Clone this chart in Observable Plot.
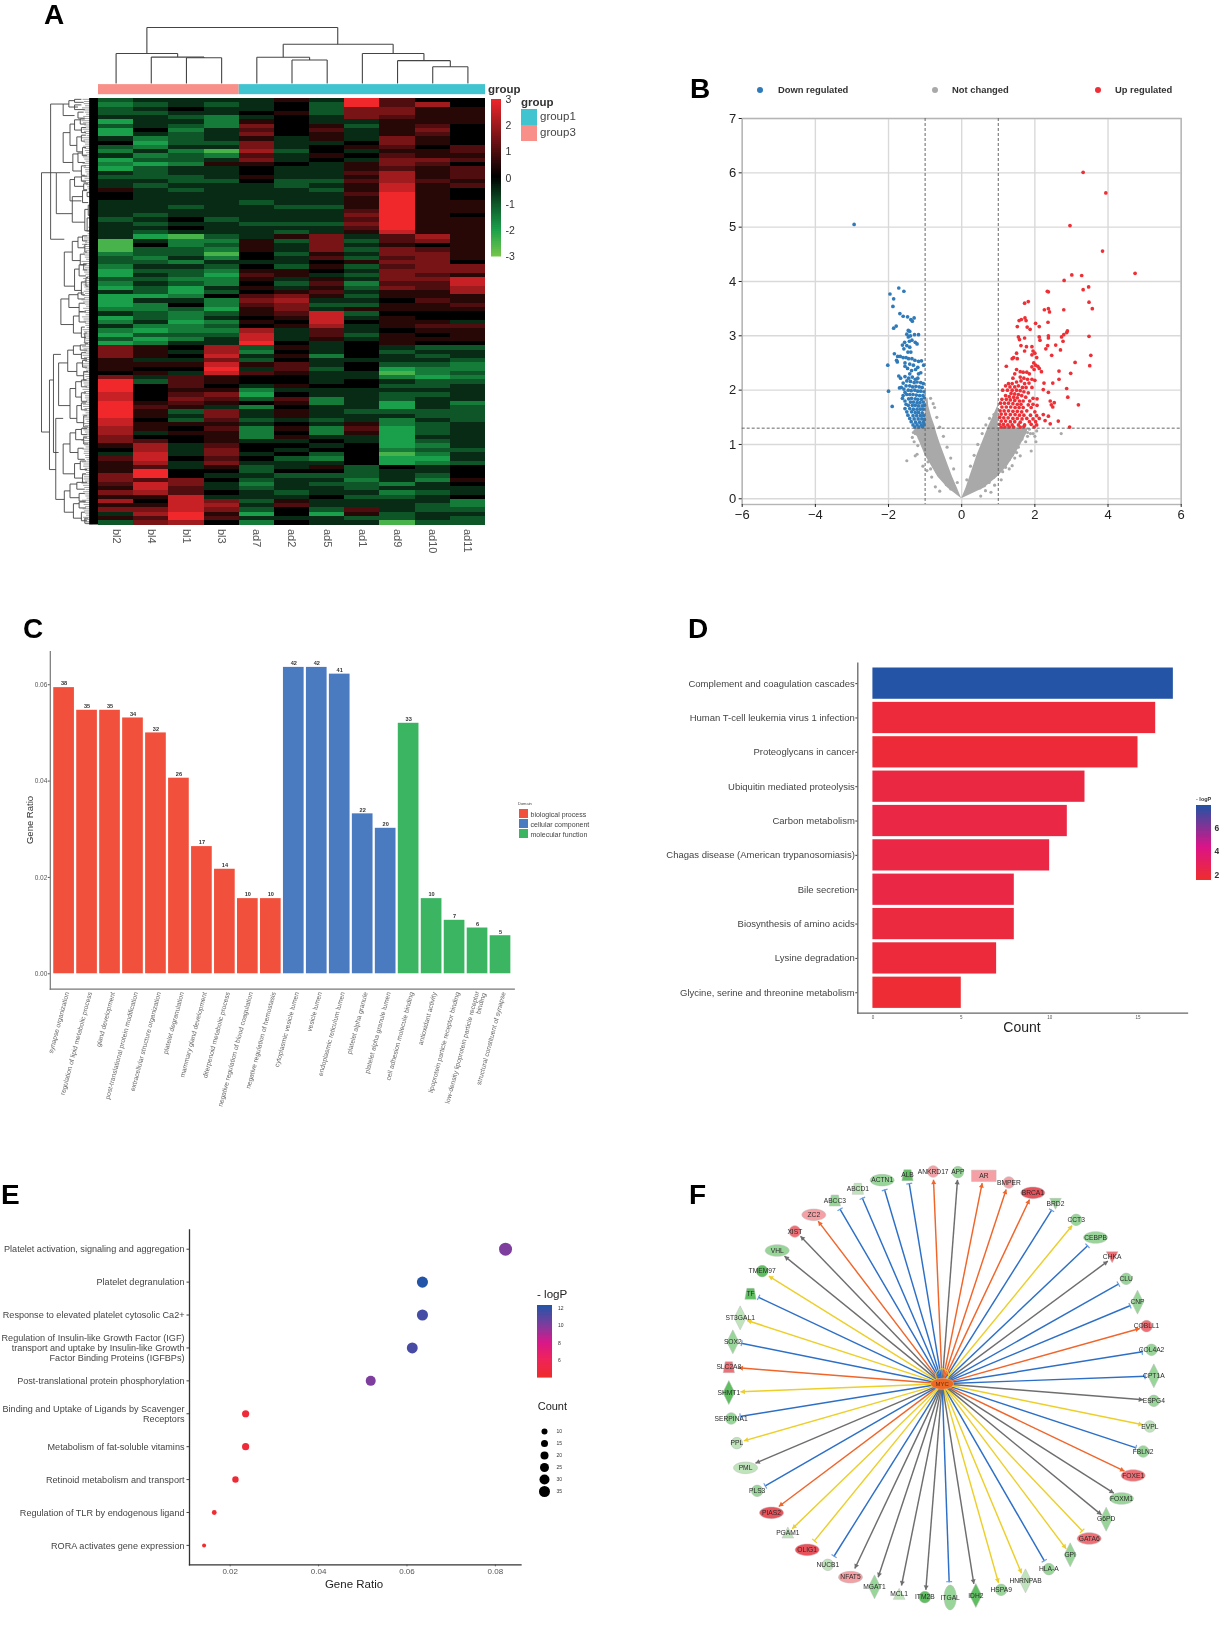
<!DOCTYPE html>
<html><head><meta charset="utf-8">
<style>
html,body{margin:0;padding:0;background:#fff;font-family:"Liberation Sans",Arial,sans-serif}
#chart{position:relative;width:1219px;height:1627px;overflow:hidden;filter:blur(0.45px)}
#chart div{white-space:nowrap}
</style>
<script src="https://cdn.jsdelivr.net/npm/d3@7"></script>
<script src="https://cdn.jsdelivr.net/npm/@observablehq/plot@0.6"></script>
</head><body><div id="chart"></div>
<script>
// ---------- Panel A: heat map
const heatColumns=["bl2","bl4","bl1","bl3","ad7","ad2","ad5","ad1","ad9","ad10","ad11"];
const groupNames=["group3","group1"];
const groupStart=[0,4];
const groupEnd=[4,11];
// z-scores, in half units, one list per row of the picture
const heatRows=[
[-2,-1,-1,-1,-1,1,-1,6,2,0,0],[-3,-2,-1,-2,-1,0,-2,6,2,4,0],[-2,-1,0,-1,-1,0,-2,3,3,1,1],[-2,-2,-1,-1,0,1,-2,3,3,1,1],
[-1,-1,-2,-3,-1,0,-1,3,2,1,1],[-4,-1,-1,-3,1,0,-1,-1,1,1,1],[-2,-1,-2,-3,3,0,1,-2,1,2,0],[-4,0,-3,-1,2,0,2,-1,1,3,0],
[-4,-1,-2,-1,3,0,1,-1,1,2,0],[-1,-3,-2,-1,1,-1,1,-1,3,1,0],[0,-4,-2,-2,3,-1,-1,0,3,1,0],[-2,-3,-1,-1,3,-1,0,1,2,0,2],
[-3,-1,-3,-5,4,-2,0,-1,1,1,2],[-1,-3,-2,-3,2,-1,1,0,2,1,1],[-4,-2,-2,-1,3,-1,0,-1,3,3,2],[-3,-4,-3,1,1,0,-1,1,3,2,0],
[-4,-2,-1,-1,0,-1,-1,1,2,1,2],[-1,-2,-1,-1,0,-1,-1,2,4,1,2],[-2,-2,-2,-1,1,-1,-1,1,4,1,2],[-1,-1,-2,-2,0,-2,-2,2,4,2,1],
[-1,-2,-1,-1,-1,-2,-1,1,5,1,2],[1,-1,-2,-1,-1,-1,-2,1,5,1,0],[0,-1,-1,-1,-1,-1,-1,2,6,1,0],[0,-1,-1,-1,-1,-1,-1,1,6,1,0],
[-1,-1,-1,-1,-2,-1,-1,1,6,1,1],[-1,-1,-2,-1,-1,-2,-2,1,6,1,1],[-1,-1,-1,-1,-1,-1,-1,2,6,1,1],[-1,-2,-1,-1,-1,-1,-1,3,6,1,0],
[-2,-1,0,-2,-1,-1,-1,2,6,1,1],[-1,-2,-1,-1,-2,-2,-2,3,6,1,1],[-1,-1,0,-1,-1,-1,-1,2,6,1,1],[-1,-2,-1,-1,-1,-2,-1,1,5,1,1],
[-1,-4,-5,-2,-1,1,3,-1,2,4,1],[-5,-1,-3,-3,1,-2,3,-2,2,3,1],[-5,0,-3,-2,1,-1,3,-1,1,0,1],[-5,-2,-2,-3,1,-1,3,-2,3,2,1],
[-3,-2,-2,-5,0,-2,1,-1,3,3,1],[-2,-3,-1,-3,0,-1,2,-2,2,3,1],[-2,-2,-3,-1,-1,-1,0,1,3,3,0],[-3,-1,-1,-2,0,-2,1,-2,2,3,3],
[-4,-2,-2,-3,1,1,0,-1,3,3,3],[-4,-1,-2,-4,2,1,-1,-2,3,2,1],[-2,-2,-3,-3,1,-1,1,-1,3,3,5],[-3,-1,-2,-3,0,-2,2,-3,2,2,5],
[-4,-2,-4,-1,1,-1,1,-2,3,2,4],[-1,-2,-4,-2,0,1,2,-1,1,1,4],[-4,-4,-3,0,2,3,1,-2,1,1,1],[-4,-1,-1,-3,3,4,-1,-1,0,2,1],
[-4,-3,0,-3,2,3,-2,-2,1,1,2],[-3,-3,-2,-4,1,3,-1,1,1,1,1],[-1,-2,-3,-2,1,2,5,-2,0,0,0],[-4,-2,-3,-1,0,1,5,-1,1,0,0],
[-3,-1,-4,-3,1,0,5,0,1,1,-1],[-1,-3,-3,-2,0,1,4,-1,1,2,2],[-3,-4,-3,-3,4,-1,2,-1,0,1,1],[-4,-2,-2,-2,5,-1,2,-2,1,0,1],
[-2,-4,-3,-1,5,-1,1,-1,1,1,1],[-4,-3,-1,-1,6,0,-1,0,1,0,0],[3,1,0,4,-2,1,-1,0,-1,-2,-2],[3,1,-1,4,-3,0,-1,0,-2,-1,-1],
[3,1,0,5,-1,1,-3,0,-1,-2,-1],[1,-1,-1,3,-2,0,-1,-1,-1,-1,-2],[1,1,1,5,1,2,-1,0,-2,-2,-3],[1,0,0,6,-1,2,-2,0,-4,-3,-3],
[0,1,-1,5,2,1,-1,-1,-5,-3,-2],[3,-1,2,1,0,0,-1,-1,-3,-4,-3],[6,-2,2,1,0,0,-1,0,-1,-2,-2],[6,0,2,0,-1,1,0,0,-2,-2,-1],
[6,0,1,1,-3,-1,-1,-1,-1,-1,-1],[5,0,2,3,-4,0,-1,-1,-2,-2,-1],[5,0,3,2,-2,2,-3,-1,-2,-1,-1],[6,1,2,1,0,1,-3,-1,-4,-1,-3],
[6,2,1,-1,-3,0,-1,-1,-4,-1,-2],[6,1,-2,3,-1,1,-1,-2,-2,-2,-2],[6,1,-1,3,-1,1,-1,-1,-1,-2,-2],[5,0,-2,2,-2,-1,-2,-1,-3,-1,-2],
[5,1,1,1,-1,0,-1,1,-3,-2,-1],[4,1,0,2,-3,1,-3,2,-4,-2,-1],[4,-1,1,1,-3,0,-3,1,-4,-2,-1],[3,0,0,1,-3,1,-1,-1,-4,-1,-1],
[3,2,0,1,-1,-1,0,-1,-4,-2,-1],[1,4,-1,2,0,0,-1,0,-4,-3,-1],[0,4,-1,3,0,-1,0,0,-3,-2,-2],[-1,5,-1,3,-1,0,-2,0,-5,-3,-1],
[2,5,0,2,0,-2,-3,0,-4,-4,-1],[1,4,-1,3,-1,-1,-1,0,-4,-3,-2],[1,2,-1,1,-2,-1,1,-2,0,-1,0],[1,6,0,0,-2,0,0,-2,-1,-1,0],
[3,6,0,-1,-1,-2,-2,-2,-1,-2,0],[3,2,3,0,-2,-1,-1,-3,-1,-3,1],[2,5,3,-1,-3,-1,-2,-2,-3,-1,0],[1,5,2,-1,-2,-1,-1,-2,-1,-1,-1],
[3,4,2,0,-1,-2,-1,-1,-3,-2,-1],[1,1,5,-1,-1,-1,0,-2,-2,-1,0],[4,0,5,3,-2,1,-1,-1,-1,-1,-3],[1,1,5,4,-1,2,-1,-1,-1,-2,-3],
[3,3,5,3,-2,0,-2,2,-1,-2,-2],[-1,4,6,1,-4,0,-4,1,-2,-1,-1],[1,2,6,2,-1,-1,-1,-2,-2,-1,-2],[-2,3,4,0,-3,0,-1,-1,-5,-2,-2]];
// column tree: left position, right position, merge height, left child height, right child height
const columnTree=[[2.5,3.5,.459,0,0],[1.5,3,.471,0,.459],[.5,2.25,.536,0,.471],[5.5,6.5,.42,0,0],[4.5,6,.47,0,.42],
[9.5,10.5,.30,0,0],[8.5,10,.408,0,.30],[7.5,9.25,.535,0,.408],[5.25,8.375,.7,.47,.535],[1.375,6.8,1,.536,.7]];
// row tree: height, top row, bottom row, top child height, bottom child height
const rowTree=[[1,17.4,78.2,.74,.86],[.84,1.3,33,.62,.6],[.74,17.4,27,.5,.46],[.86,66,87,.79,.75],[.79,60,83,.66,.7],[.75,75,94,.62,.6],
[.62,1.3,4,.52,.42],[.52,.5,2,.42,.36],[.42,.2,.9,.3,.26],[.42,1.5,2.6,.3,.24],[.36,3.2,4.6,.26,.24],
[.62,8,15,.5,.45],[.5,6,11,.42,.38],[.42,5,7.4,.32,.3],[.32,4.8,6,.24,.22],[.3,6.8,8,.22,.22],[.38,9,12.5,.3,.28],[.3,8.6,10,.22,.24],[.28,11.5,13.4,.22,.2],
[.45,13,17,.36,.3],[.36,12.8,15,.28,.24],[.3,15.8,18,.22,.24],
[.5,19,24,.42,.3],[.42,18.4,20.6,.3,.26],[.3,18.2,19.4,.2,.22],[.26,20,21.4,.18,.2],
[.46,23,29,.28,.24],[.28,21.6,24.4,.2,.18],[.24,26,31,.18,.2],[.2,22,23,.14,.15],[.18,25,27.4,.13,.15],[.2,28,31,.14,.14],
[.6,36,44,.46,.42],[.46,33.5,38,.36,.32],[.36,32.5,35,.28,.24],[.28,32.2,33.4,.2,.2],[.24,34.2,36,.2,.2],[.32,36.5,39,.24,.22],
[.42,40,45,.34,.3],[.34,39,41.6,.26,.22],[.26,38.8,40.2,.2,.2],[.3,43,46,.22,.24],[.22,42,44,.18,.18],
[.66,47,53,.52,.44],[.52,46,49,.36,.34],[.36,45.6,47,.26,.24],[.34,48,50,.24,.22],[.44,51,55,.34,.3],[.34,50,52.4,.26,.22],[.3,53.6,56,.24,.22],[.24,55,57.4,.2,.18],
[.7,62,72,.54,.5],[.54,59,64,.44,.38],[.44,58,60,.32,.3],[.32,57.8,59,.22,.2],[.3,59.6,61,.22,.2],[.38,62,65,.28,.26],[.28,61.4,63,.2,.2],[.26,64,66,.18,.2],
[.5,68,75,.4,.38],[.4,66.4,70,.3,.3],[.3,66,67.6,.22,.2],[.3,69,71,.22,.2],[.38,72,76,.3,.26],[.3,71.4,73,.22,.2],[.26,74.4,77,.2,.18],
[.62,81,88,.5,.42],[.5,78.4,83,.4,.36],[.4,77.6,80,.3,.26],[.3,77.4,78.8,.2,.2],[.26,79.4,81,.2,.18],[.36,82,84.6,.26,.24],[.42,85.6,89,.32,.28],[.32,85,87,.22,.2],[.28,88,90,.22,.2],
[.6,92,97,.5,.44],[.5,90.4,93.6,.38,.34],[.38,90,91.6,.26,.24],[.34,92.6,94.4,.24,.22],[.44,95,98.4,.34,.3],[.34,94.6,96,.24,.22],[.3,97,99,.24,.2],[.24,98.4,99.6,.18,.16]];
// leaf length per row of the tree
const rowLeaves=[.26,.24,.27,.22,.25,.28,.23,.26,.21,.27,.24,.25,.22,.28,.23,.26,.24,.21,.25,.27,.2,.17,.15,.14,.13,.14,.13,.15,.14,.13,.16,.19,.26,.24,.27,.23,.25,.22,.28,.24,.26,.21,.25,.27,.23,.24,.26,.28,.22,.25,.23,.27,.24,.21,.26,.25,.22,.24,.27,.23,.26,.24,.28,.22,.25,.21,.27,.23,.26,.24,.22,.28,.25,.23,.26,.21,.24,.27,.22,.25,.28,.23,.26,.24,.21,.27,.25,.22,.26,.24,.28,.23,.25,.21,.27,.24,.26,.22,.25,.23];
const heatTicks=[-3,-2,-1,0,1,2,3];

// ---------- Panel B: volcano
const xTicksB=[-6,-4,-2,0,2,4,6];
const yTicksB=[0,1,2,3,4,5,6,7];
const cloudY=[0,.2,.4,.6,.8,1,1.2,1.3,1.31,1.5,1.7,1.85];
const cloudLeftOuter=[0,-.38,-.65,-.82,-1,-1.12,-1.25,-1.27,-1,-1,-1,-.95];
const cloudLeftInner=[0,-.12,-.25,-.36,-.47,-.58,-.68,-.72,-.72,-.82,-.9,-.92];
const cloudRightInner=[0,.12,.22,.32,.42,.54,.66,.72,.72,.85,.98,1];
const cloudRightOuter=[0,.62,.98,1.25,1.45,1.62,1.78,1.82,1,1,1,1];
const notChanged=[[-1.5,.7],[2.72,1.2],[1.9,.88],[1.6,.79],[1.38,.61],[-.82,.4],[-1.06,.6],[-1.22,.82],[-1.27,.79],[-1.35,1.13],[-1.3,1.05],[-1.27,1.2],[-1.32,1.22],[-1.2,.98],[-.95,.52],[.65,.15],[.9,.25],[1.08,.35],[1.12,.5],[1.3,.55],[1.2,.58],[1.45,.75],[1.5,.85],[1.55,.95],[1.7,1.2],[1.8,1.15],[1.75,1.05],[1.95,1.2],[2,1.15],[2.03,1.05],[1.65,1.1],[1.85,1.28],[2.05,1.25],[1.6,1.25],[1.5,.98],[.8,.12],[.52,.05],[-.6,.14],[-.85,.55],[-.72,.22],[-.92,.68],[-.78,1.75],[-.85,1.85],
[-.3,.18],[-.42,.26],[-.5,.36],[-.6,.46],[-.68,.5],[-.75,.58],[-.8,.66],[-.88,.72],[-.95,.82],[-1,.9],[-1.06,.98],[-1.1,1.05],[-1.16,1.12],[-1.2,1.18],[-1.28,1.25],[-1.24,1.28],[-.12,.3],[-.22,.55],[-.3,.75],[-.4,.95],[-.5,1.15],[-.6,1.32],[-.68,1.5],[-.74,1.68],[.5,.2],[.62,.24],[.75,.3],[.88,.4],[1,.48],[1.12,.62],[1.22,.66],[1.3,.72],[1.38,.8],[1.45,.88],[1.52,1],[1.58,1.08],[1.66,1.14],[1.72,1.26],[1.8,1.22],[1.88,1.2],[.14,.35],[.24,.6],[.34,.8],[.44,1],[.56,1.2],[.66,1.36],[.76,1.48],[.88,1.55]];
const downRegulated=[[-2.94,5.05],[-1.72,3.88],[-1.58,3.82],[-1.96,3.77],[-1.86,3.68],[-1.88,3.54],[-1.69,3.41],[-1.6,3.36],[-1.48,3.35],[-1.3,3.33],[-1.35,3.27],[-1.39,3.3],[-1.79,3.18],[-1.86,3.14],[-1.46,3.1],[-1.42,3.08],[-1.5,3.03],[-1.46,2.98],[-1.4,3],[-1.29,3.02],[-1.18,3.02],[-1.36,2.92],[-1.43,2.9],[-1.27,2.88],[-1.22,2.85],[-1.56,2.88],[-1.62,2.83],[-1.5,2.82],[-1.42,2.79],[-1.58,2.76],[-1.47,2.7],[-1.39,2.7],[-1.84,2.67],[-1.75,2.62],[-1.68,2.62],[-1.6,2.6],[-1.52,2.6],[-1.45,2.58],[-1.36,2.58],[-1.28,2.55],[-1.18,2.53],[-1.1,2.54],[-1.78,2.55],[-1.76,2.52],[-1.55,2.5],[-1.42,2.48],[-1.32,2.46],[-1.55,2.44],[-1.2,2.42],[-2.02,2.46],[-1.04,2.46],[-1.48,2.4],[-1.37,2.36],[-1.26,2.38],[-1.18,2.3],[-1.12,2.32],[-1.42,2.3],[-1.72,2.26],[-1.67,2.22],[-1.55,2.25],[-1.45,2.22],[-1.35,2.24],[-1.27,2.2],[-1.2,2.22],[-1.5,2.17],[-1.4,2.16],[-1.3,2.14],[-1.22,2.15],[-1.12,2.14],[-1.05,2.12],[-1.6,2.13],[-1.65,2.05],[-1.7,2.04],[-1.52,2.08],[-1.42,2.08],[-1.34,2.06],[-1.25,2.07],[-1.16,2.06],[-1.08,2.05],[-1.58,2.02],[-1.46,2],[-1.38,1.99],[-1.28,2],[-1.2,1.98],[-1.12,1.98],[-1.03,1.97],[-2,1.98],[-1.55,1.96],[-1.6,1.9],[-1.5,1.92],[-1.42,1.92],[-1.33,1.92],[-1.24,1.91],[-1.15,1.9],[-1.06,1.9],[-1.02,1.86],[-1.62,1.85],[-1.45,1.84],[-1.37,1.85],[-1.27,1.84],[-1.2,1.83],[-1.1,1.83],[-1.55,1.8],[-1.32,1.78],[-1.4,1.78],[-1.22,1.77],[-1.14,1.77],[-1.05,1.78],[-1.52,1.74],[-1.46,1.72],[-1.35,1.72],[-1.27,1.72],[-1.18,1.71],[-1.08,1.71],[-1.02,1.72],[-1.9,1.7],[-1.55,1.66],[-1.42,1.66],[-1.32,1.65],[-1.22,1.65],[-1.13,1.65],[-1.05,1.65],[-1.5,1.6],[-1.37,1.6],[-1.27,1.59],[-1.18,1.59],[-1.08,1.58],[-1.47,1.54],[-1.33,1.53],[-1.23,1.53],[-1.13,1.53],[-1.04,1.53],[-1.42,1.48],[-1.3,1.47],[-1.19,1.47],[-1.09,1.47],[-1.02,1.46],[-1.38,1.42],[-1.26,1.41],[-1.15,1.41],[-1.05,1.41],[-1.33,1.36],[-1.22,1.36],[-1.11,1.36],[-1.03,1.36],[-1.28,1.32],[-1.17,1.32],[-1.07,1.33]];
const upRegulated=[[3.32,6.01],[3.94,5.63],[2.96,5.03],[3.85,4.56],[4.74,4.15],[3.01,4.12],[3.28,4.11],[2.8,4.02],[3.47,3.9],[3.32,3.85],[2.34,3.82],[2.37,3.81],[1.72,3.6],[1.82,3.63],[3.48,3.62],[3.57,3.5],[2.79,3.48],[2.26,3.48],[2.37,3.5],[2.4,3.44],[1.57,3.28],[1.63,3.3],[1.73,3.33],[1.76,3.28],[2.36,3.25],[1.52,3.17],[1.79,3.16],[1.87,3.12],[2.02,3.23],[2.12,3.17],[1.55,2.98],[1.58,2.93],[1.72,2.96],[2.89,3.09],[2.87,3.06],[3.48,2.99],[2.37,3],[2.37,2.96],[2.79,3.02],[2.73,2.98],[2.77,2.9],[2.12,2.98],[2.14,2.92],[2.57,2.83],[2.35,2.82],[2.3,2.76],[2.7,2.74],[2.46,2.64],[3.53,2.64],[3.1,2.51],[3.5,2.45],[2.66,2.35],[2.66,2.2],[2.98,2.31],[2.49,2.13],[2.87,2.03],[2.25,2.13],[2.23,2.01],[2.37,1.96],[2.9,1.87],[2.42,1.8],[2.53,1.77],[2.45,1.73],[2.49,1.69],[3.19,1.73],[2.23,1.55],[2.37,1.52],[2.64,1.43],[2.42,1.38],[2.28,1.44],[2.95,1.32],[1.62,2.82],[1.77,2.8],[1.92,2.8],[1.95,2.72],[1.72,2.72],[1.5,2.68],[1.92,2.65],[2,2.68],[1.42,2.6],[1.38,2.58],[1.52,2.58],[2.05,2.6],[1.97,2.5],[2.02,2.46],[2.08,2.44],[1.92,2.43],[1.22,2.44],[1.5,2.38],[2.12,2.4],[1.98,2.38],[2.18,2.34],[1.6,2.34],[1.68,2.33],[1.78,2.33],[1.85,2.3],[1.45,2.3],[1.4,2.22],[1.6,2.24],[1.7,2.22],[1.8,2.2],[1.92,2.2],[2,2.18],[1.62,2.17],[1.5,2.15],[1.28,2.12],[1.38,2.12],[1.72,2.12],[1.84,2.13],[1.2,2.08],[1.32,2.06],[1.45,2.06],[1.55,2.08],[1.66,2.05],[1.76,2.05],[1.92,2.05],[1.12,2],[1.25,2],[1.38,2],[1.5,2],[1.6,1.99],[1.7,1.97],[1.82,1.95],[1.35,1.94],[1.45,1.93],[1.55,1.92],[1.64,1.9],[1.2,1.9],[1.3,1.88],[1.42,1.87],[1.52,1.86],[1.75,1.87],[1.95,1.85],[2.06,1.84],[1.1,1.83],[1.22,1.83],[1.33,1.82],[1.45,1.81],[1.58,1.8],[1.68,1.8],[1.86,1.8],[1.06,1.76],[1.17,1.76],[1.28,1.76],[1.4,1.75],[1.52,1.74],[1.62,1.74],[1.82,1.73],[1.95,1.74],[2.06,1.72],[1.1,1.69],[1.22,1.69],[1.34,1.69],[1.46,1.68],[1.57,1.68],[1.68,1.68],[1.9,1.68],[1.05,1.62],[1.16,1.62],[1.28,1.62],[1.4,1.61],[1.52,1.61],[1.64,1.6],[1.78,1.62],[2,1.6],[1.08,1.56],[1.2,1.56],[1.33,1.55],[1.46,1.55],[1.58,1.54],[1.7,1.54],[1.88,1.54],[2.05,1.53],[1.04,1.5],[1.15,1.49],[1.27,1.49],[1.4,1.48],[1.52,1.48],[1.65,1.47],[1.78,1.48],[1.95,1.47],[2.12,1.48],[1.08,1.43],[1.2,1.43],[1.33,1.42],[1.45,1.42],[1.6,1.41],[1.85,1.42],[2.02,1.42],[1.03,1.37],[1.14,1.37],[1.26,1.36],[1.38,1.36],[1.55,1.36],[1.72,1.36],[1.9,1.37],[2.05,1.36],[1.08,1.32],[1.18,1.32],[1.3,1.32],[1.42,1.32],[1.6,1.32],[1.7,1.33],[1.98,1.32]];

// ---------- Panel C: GO bars
const goTerms=["synapse organization","regulation of lipid metabolic process","gland development","post-translational protein modification","extracellular structure organization","platelet degranulation","mammary gland development","diterpenoid metabolic process","negative regulation of blood coagulation","negative regulation of hemostasis","cytoplasmic vesicle lumen","vesicle lumen","endoplasmic reticulum lumen","platelet alpha granule","platelet alpha granule lumen","cell adhesion molecule binding","antioxidant activity","lipoprotein particle receptor binding","low-density lipoprotein particle receptor\nbinding","structural constituent of synapse"];
const goRatio=[.0594,.0547,.0547,.0531,.05,.0406,.0264,.0217,.0156,.0156,.0636,.0636,.0622,.0332,.0302,.052,.0156,.0111,.0095,.0079];
const goCount=[38,35,35,34,32,26,17,14,10,10,42,42,41,22,20,33,10,7,6,5];
const goDomain=["biological process","biological process","biological process","biological process","biological process","biological process","biological process","biological process","biological process","biological process","cellular component","cellular component","cellular component","cellular component","cellular component","molecular function","molecular function","molecular function","molecular function","molecular function"];
const goDomains=["biological process","cellular component","molecular function"];
const goTicks=[0,.02,.04,.06];

// ---------- Panel D: KEGG bars
const keggTerms=["Complement and coagulation cascades","Human T-cell leukemia virus 1 infection","Proteoglycans in cancer","Ubiquitin mediated proteolysis","Carbon metabolism","Chagas disease (American trypanosomiasis)","Bile secretion","Biosynthesis of amino acids","Lysine degradation","Glycine, serine and threonine metabolism"];
const keggCount=[17,16,15,12,11,10,8,8,7,5];
const keggLogP=[7.8,2,1.9,2.2,2.3,2.3,2.3,2.1,2,1.8];
const keggTicks=[0,5,10,15];

// ---------- Panel E: Reactome dots
const reactomeTerms=["Platelet activation, signaling and aggregation","Platelet degranulation","Response to elevated platelet cytosolic Ca2+","Regulation of Insulin-like Growth Factor (IGF)\ntransport and uptake by Insulin-like Growth\nFactor Binding Proteins (IGFBPs)","Post-translational protein phosphorylation","Binding and Uptake of Ligands by Scavenger\nReceptors","Metabolism of fat-soluble vitamins","Retinoid metabolism and transport","Regulation of TLR by endogenous ligand","RORA activates gene expression"];
const reactomeRatio=[.0823,.0635,.0635,.0612,.0518,.0235,.0235,.0212,.0164,.0141];
const reactomeCount=[35,27,27,26,22,10,10,9,7,6];
const reactomeLogP=[10,12.2,11.4,11.3,10,4.5,4.5,4.4,4.2,4];
const reactomeTicks=[.02,.04,.06,.08];
const countLegend=[10,15,20,25,30,35];

// ---------- Panel F: MYC network
const hubName="MYC";
const nodeNames=["ANKRD17","APP","AR","BMPER","BRCA1","BRD2","CCT3","CEBPB","CHKA","CLU","CNP","COBLL1","COL4A2","CPT1A","ESPG4","EVPL","FBLN2","FOXE1","FOXM1","G6PD","GATA6","GPI","HLA-A","HNRNPAB","HSPA9","IDH2","ITGAL","ITM2B","MCL1","MGAT1","NFAT5","NUCB1","OLIG1","PGAM1","PIAS2","PLS3","PML","PPL","SERPINA1","SHMT1","SLC2A8","SOX2","ST3GAL1","TF","TMEM97","VHL","XIST","ZC2","ABCC3","ABCD1","ACTN1","ALB"];
const nodeX=[668,742,820,895,967,1035,1097,1155,1205,1247,1281,1308,1323,1330,1330,1318,1298,1268,1233,1187,1136,1079,1015,945,872,796,719,643,566,492,420,352,290,232,183,140,105,79,62,55,55,67,89,120,155,200,253,310,373,442,515,591];
const nodeY=[63,65,76,96,127,160,208,261,320,385,455,527,598,676,751,828,903,975,1044,1106,1164,1213,1256,1291,1318,1335,1341,1340,1330,1309,1280,1243,1198,1146,1087,1021,952,878,804,726,650,574,502,430,362,300,243,193,150,115,89,74];
const tipX=[669,741,815,887,957,1024,1085,1132,1192,1225,1260,1288,1296,1305,1298,1297,1277,1242,1210,1173,1116,1067,1002,933,864,790,716,646,573,503,433,370,311,245,205,163,135,100,88,90,84,92,110,143,175,222,270,323,388,455,522,596];
const tipY=[88,88,98,117,147,178,225,285,332,400,465,534,604,677,748,823,892,962,1028,1093,1142,1195,1232,1268,1297,1300,1295,1318,1305,1280,1254,1218,1172,1135,1068,1007,938,871,798,724,652,578,510,440,377,317,257,212,175,142,117,98];
const nodeShape=["circle","circle","rect","circle","ellipse","invtri","circle","ellipse","invtri","circle","diamond","circle","circle","diamond","circle","circle","circle","ellipse","ellipse","diamond","ellipse","diamond","circle","diamond","circle","diamond","tall","circle","tri","diamond","ellipse","circle","ellipse","tri","ellipse","circle","ellipse","circle","circle","diamond","trap","diamond","diamond","trap","circle","ellipse","circle","ellipse","trap","trap","ellipse","trap"];
const nodeLevel=[1,-2,1,1,3,-2,-2,-2,2,-2,-2,2,-2,-2,-2,-1,-2,2,-2,-2,2,-2,-2,-1,-2,-3,-2,-3,-1,-2,1,-1,3,-1,3,-2,-1,-1,-2,-3,2,-2,-1,-3,-3,-2,2,1,-2,-1,-2,-3];
const edgeKind=["up","none","up","up","up","down","predicted","down","none","down","down","up","down","down","none","predicted","down","up","none","none","conflict","predicted","down","predicted","predicted","none","down","none","none","none","none","down","conflict","predicted","up","down","none","predicted","down","predicted","up","down","predicted","down","predicted","none","none","up","down","down","down","down"];

// ---------- helpers
const FONT='"Liberation Sans",Arial,sans-serif';
const root=document.getElementById("chart");
function place(node,x,y){node.style.position="absolute";node.style.left=x+"px";node.style.top=y+"px";node.style.maxWidth="none";node.style.height=node.getAttribute("height")+"px";root.append(node);return node;}
function txt(s,x,y,o={}){const d=document.createElement("div");d.textContent=s;const a=o.anchor||"start";
 d.style.cssText=`position:absolute;left:${x}px;top:${y}px;font-size:${o.size||10}px;font-weight:${o.weight||400};color:${o.color||"#333"};line-height:1;transform:translate(${a==="middle"?"-50%":a==="end"?"-100%":"0"},-50%)`+(o.rotate?` rotate(${o.rotate}deg)`:"");root.append(d);return d;}
function box(x,y,w,h,c,r){const d=document.createElement("div");d.style.cssText=`position:absolute;left:${x}px;top:${y}px;width:${w}px;height:${h}px;background:${c};border-radius:${r||0}px`;root.append(d);}
function plot(o,x,y){const p=Plot.plot({style:{fontFamily:FONT,background:"transparent",overflow:"visible"},...o});return place(p,x,y);}
function colorBar(dom,cols,x,y,w,h,ticks,fs,fw,pad){const lo=dom[0],hi=dom[dom.length-1],st=(hi-lo)/80;
 const ramp=d3.range(lo,hi,st);
 return plot({width:w,height:h,margin:0,y:{domain:[lo,hi],range:[h,0],axis:null},color:{type:"linear",domain:dom,range:cols,interpolate:"rgb"},
  marks:[Plot.rect(ramp,{y1:d=>d,y2:d=>Math.min(hi,d+st*2),fill:d=>d}),
   Plot.axisY({anchor:"right",ticks,tickSize:0,tickPadding:pad,fontSize:fs,fontWeight:fw,color:"#333",tickFormat:d=>String(d),label:null})]},x,y);}

// ---------- letters
[["A",44,15],["B",690,89],["C",23,629],["D",688,629],["E",1,1195],["F",689,1195]].forEach(([s,x,y])=>txt(s,x,y,{size:28,weight:700,color:"#000"}));

// ---------- A
const cells=heatRows.flatMap((r,i)=>r.map((v,j)=>({row:i,col:heatColumns[j],z:v/2})));
const heatDomain=[-3,-2,-1,0,3],heatRange=["#74c54a","#1aa04a","#0e5528","#000000","#f0282c"];
plot({width:387,height:463,marginTop:0,marginLeft:0,marginRight:0,marginBottom:36.5,
 x:{domain:heatColumns,padding:0,round:false},y:{domain:d3.range(heatRows.length),padding:0,round:false,axis:null},
 color:{type:"linear",domain:heatDomain,range:heatRange,interpolate:"rgb"},
 marks:[Plot.cell(cells,{x:"col",y:"row",fill:"z",shapeRendering:"crispEdges"}),
  Plot.axisX({anchor:"bottom",tickSize:0,tickPadding:4,tickRotate:90,fontSize:11,color:"#555",label:null})]},97.5,97.5);
const topSegs=columnTree.flatMap(([a,b,h,ha,hb])=>[{x1:a,x2:b,y1:h,y2:h},{x1:a,x2:a,y1:h,y2:ha},{x1:b,x2:b,y1:h,y2:hb}]);
plot({width:387,height:86,margin:0,x:{domain:[0,11],axis:null},y:{domain:[0,1],range:[73,17],axis:null},
 marks:[Plot.link(topSegs,{x1:"x1",x2:"x2",y1:"y1",y2:"y2",stroke:"#444",strokeWidth:1.1}),
  Plot.rect(groupNames.map((g,i)=>({g,a:groupStart[i],b:groupEnd[i]})),{x1:"a",x2:"b",y1:()=>-.02,y2:()=>-.2,fill:d=>d.g==="group3"?"#f88f88":"#40c4cf"})]},97.5,10);
const rowSegs=rowTree.flatMap(([h,r1,r2,h1,h2])=>[{x1:h,x2:h,y1:r1,y2:r2},{x1:h,x2:h1,y1:r1,y2:r1},{x1:h,x2:h2,y1:r2,y2:r2}]);
const leafSegs=rowLeaves.flatMap((h,i)=>[{x:h+.02,y:i+.2},{x:h*.9+.02,y:i+.7}]);
plot({width:57,height:426.5,margin:0,x:{domain:[1,0],axis:null},y:{domain:[0,100],range:[0,426.5],axis:null},
 marks:[Plot.link(rowSegs,{x1:"x1",x2:"x2",y1:"y1",y2:"y2",stroke:"#444",strokeWidth:.9}),
  Plot.link(leafSegs,{x1:"x",x2:()=>.1,y1:"y",y2:"y",stroke:"#777",strokeWidth:.7}),
  Plot.rect([0],{x1:()=>.155,x2:()=>0,y1:()=>0,y2:()=>100,fill:"#000"})]},40.5,97.5);
colorBar(heatDomain,heatRange,491,98.5,10,157.5,heatTicks,10.5,400,4);
txt("group",488,90,{size:11.5,weight:700,color:"#333"});
txt("group",521,103,{size:11.5,weight:700,color:"#333"});
box(521,109,16,16,"#40c4cf");box(521,125,16,16,"#f88f88");
txt("group1",540,117,{size:11.5,color:"#444"});txt("group3",540,133,{size:11.5,color:"#444"});

// ---------- B
const gridC="#d9d9d9",dashC="#666";
const cloud=cloudY.map((y,i)=>({y,l1:cloudLeftOuter[i],l2:cloudLeftInner[i],r1:cloudRightInner[i],r2:cloudRightOuter[i]}));
plot({width:490.7,height:414,marginLeft:41.7,marginRight:10,marginTop:18,marginBottom:10,
 x:{domain:[-6,6]},y:{domain:[-.105,7]},
 marks:[Plot.ruleX(xTicksB,{stroke:gridC,strokeWidth:1.4}),Plot.ruleY(yTicksB,{stroke:gridC,strokeWidth:1.4}),
  Plot.frame({stroke:"#b5b5b5",strokeWidth:1.4}),
  Plot.areaX(cloud,{y:"y",x1:"l1",x2:"l2",fill:"#a9a9a9"}),Plot.areaX(cloud,{y:"y",x1:"r1",x2:"r2",fill:"#a9a9a9"}),
  Plot.dot(notChanged,{x:d=>d[0],y:d=>d[1],r:1.6,fill:"#a9a9a9"}),
  Plot.dot(downRegulated,{x:d=>d[0],y:d=>d[1],r:1.85,fill:"#2f7ab9"}),
  Plot.dot(upRegulated,{x:d=>d[0],y:d=>d[1],r:1.85,fill:"#ee2f36"}),
  Plot.ruleX([-1,1],{stroke:dashC,strokeWidth:1,strokeDasharray:"3,2"}),
  Plot.ruleY([1.3],{stroke:dashC,strokeWidth:1,strokeDasharray:"3,2"}),
  Plot.axisX({ticks:xTicksB,tickSize:3,tickPadding:2,fontSize:13,fontWeight:500,color:"#222",label:null}),
  Plot.axisY({ticks:yTicksB,tickSize:3,tickPadding:3,fontSize:13,fontWeight:500,color:"#222",label:null})]},700,100);
[["Down regulated",760,778,"#2f7ab9"],["Not changed",935,952,"#a9a9a9"],["Up regulated",1097.6,1115,"#ee2f36"]].forEach(([s,dx,tx,c])=>{box(dx-3,87,6,6,c,3);txt(s,tx,90,{size:9.4,weight:700,color:"#333"});});

// ---------- C
const goData=goTerms.map((t,i)=>({term:t,ratio:goRatio[i],count:goCount[i],domain:goDomain[i]}));
plot({width:515,height:480,marginLeft:49.8,marginRight:1.2,marginTop:11,marginBottom:131.3,
 x:{domain:goTerms,paddingInner:.1,paddingOuter:.15,round:false},y:{domain:[-.0032,.0669]},
 color:{type:"ordinal",domain:goDomains,range:["#f1503c","#4a7abf","#3cb563"]},
 marks:[Plot.barY(goData,{x:"term",y:"ratio",fill:"domain"}),
  Plot.text(goData,{x:"term",y:"ratio",text:d=>String(d.count),dy:-4,fontSize:5.6,fontWeight:700,fill:"#333"}),
  Plot.frame({anchor:"left",stroke:"#777",strokeWidth:1.2}),Plot.frame({anchor:"bottom",stroke:"#777",strokeWidth:1.2}),
  Plot.axisY({ticks:goTicks,tickFormat:".2f",tickSize:2,tickPadding:1,fontSize:6.5,color:"#555",label:null}),
  Plot.axisX({tickSize:0,tickPadding:3,tickRotate:-75,fontSize:6.7,color:"#666",dx:3,lineHeight:1,label:null})]},0,640);
txt("Gene Ratio",30,820,{size:9.5,anchor:"middle",rotate:-90,color:"#333"});
txt("Domain",518,804,{size:4,color:"#444"});
goDomains.forEach((s,i)=>{box(519,808.7+i*10,9,9.6,["#f1503c","#4a7abf","#3cb563"][i]);txt(s,530.5,813.5+i*10,{size:7,color:"#444"});});

// ---------- D
const keggData=keggTerms.map((t,i)=>({term:t,count:keggCount[i],p:keggLogP[i]}));
const dDom=[1.6,4.3,7.86],dCols=["#ef2e2e","#dc1488","#2055a5"];
plot({width:517,height:380,marginLeft:187.3,marginRight:0,marginTop:12.7,marginBottom:17.3,
 x:{domain:[-.855,17.8]},y:{domain:keggTerms,paddingInner:.09,paddingOuter:.14,round:false},
 color:{type:"linear",domain:dDom,range:dCols,interpolate:"rgb"},
 marks:[Plot.barX(keggData,{y:"term",x:"count",fill:"p"}),
  Plot.frame({anchor:"left",stroke:"#666",strokeWidth:1.3}),Plot.frame({anchor:"bottom",stroke:"#666",strokeWidth:1.3}),
  Plot.axisY({tickSize:2,tickPadding:1,fontSize:9.5,color:"#444",label:null}),
  Plot.axisX({ticks:keggTicks,tickSize:0,tickPadding:3,fontSize:4.5,color:"#555",label:null})]},670,650);
txt("Count",1022,1027,{size:14,anchor:"middle",color:"#222"});
txt("- logP",1196,800,{size:5.5,weight:700,color:"#333"});
colorBar(dDom,dCols,1196,805,15,75,[2,4,6],8.5,700,3);

// ---------- E
const reactomeData=reactomeTerms.map((t,i)=>({term:t,ratio:reactomeRatio[i],count:reactomeCount[i],p:reactomeLogP[i]}));
const eDom=[4,6,8,10,12.3],eCols=["#f02c2c","#f0245a","#d8188a","#7d3e9e","#1f55a8"];
plot({width:520.5,height:385,marginLeft:189,marginRight:0,marginTop:14.3,marginBottom:35.7,
 x:{domain:[.0108,.0858]},y:{type:"point",domain:reactomeTerms,padding:.59,round:false},
 r:{type:"linear",domain:[6,10,35],range:[2,3.6,6.5]},
 color:{type:"linear",domain:eDom,range:eCols,interpolate:"rgb"},
 marks:[Plot.frame({anchor:"left",stroke:"#333",strokeWidth:1.3}),Plot.frame({anchor:"bottom",stroke:"#333",strokeWidth:1.3}),
  Plot.dot(reactomeData,{x:"ratio",y:"term",r:"count",fill:"p"}),
  Plot.axisY({tickSize:2.5,tickPadding:2.5,fontSize:9.1,lineHeight:1.07,color:"#444",label:null}),
  Plot.axisX({ticks:reactomeTicks,tickFormat:".2f",tickSize:2,tickPadding:2,fontSize:8,color:"#555",label:null})]},0,1215);
txt("Gene Ratio",354,1585,{size:11.5,anchor:"middle",color:"#222"});
txt("- logP",537,1294,{size:11.6,color:"#222"});
colorBar(eDom,eCols,537.3,1304.7,15,72.6,[6,8,10,12],5,400,5.5);
txt("Count",537.7,1406,{size:11,color:"#222"});
plot({width:40,height:90,margin:0,x:{domain:[0,40],range:[0,40],axis:null},y:{type:"point",domain:countLegend,range:[7,81.8],axis:null},
 r:{type:"linear",domain:[10,35],range:[3,5.5]},
 marks:[Plot.dot(countLegend,{x:()=>7,y:d=>d,r:d=>d,fill:"#000"}),
  Plot.text(countLegend,{x:()=>19,y:d=>d,text:d=>String(d),fontSize:5,textAnchor:"start",fill:"#333"})]},537,1417.3);

// ---------- F
const hubX=695,hubY=700;
const nodes=nodeNames.map((name,i)=>({name,x:nodeX[i],y:nodeY[i],tx:tipX[i],ty:tipY[i],shape:nodeShape[i],level:nodeLevel[i],edge:edgeKind[i]}));
const angle=d=>Math.atan2(d.tx-hubX,-(d.ty-hubY))*180/Math.PI;
function ell(a,b){const k=.5523;return{draw(c){c.moveTo(a,0);c.bezierCurveTo(a,k*b,k*a,b,0,b);c.bezierCurveTo(-k*a,b,-a,k*b,-a,0);c.bezierCurveTo(-a,-k*b,-k*a,-b,0,-b);c.bezierCurveTo(k*a,-b,a,-k*b,a,0);c.closePath();}};}
function poly(p){return{draw(c){p.forEach(([x,y],i)=>i?c.lineTo(x,y):c.moveTo(x,y));c.closePath();}};}
const shapes={circle:ell(5.8,5.8),ellipse:ell(12,5.8),tall:ell(6.1,12.4),diamond:poly([[0,-12],[6,0],[0,12],[-6,0]]),rect:poly([[-12.3,-5.7],[12.3,-5.7],[12.3,5.7],[-12.3,5.7]]),
 trap:poly([[-3.6,-5.5],[3.6,-5.5],[5.6,5.5],[-5.6,5.5]]),tri:poly([[0,-5.5],[5.8,5.5],[-5.8,5.5]]),invtri:poly([[-5.8,-5.5],[5.8,-5.5],[0,5.5]])};
const arrowSym=poly([[0,0],[2.5,4.4],[-2.5,4.4]]),teeSym=poly([[-3,-.1],[3,-.1],[3,1.1],[-3,1.1]]);
const edgeStyle={up:["#f0652a",arrowSym],down:["#2d6fc6",teeSym],predicted:["#eccf2a",arrowSym],conflict:["#eccf2a",teeSym],none:["#6e6e6e",arrowSym]};
const nodeFill={type:"ordinal",domain:[-3,-2,-1,1,2,3],range:["#5fbe60","#98d598","#bfe3ba","#f5a0a4","#ee6f75","#e8525b"]};
const edgeMarks=Object.entries(edgeStyle).flatMap(([k,[col,sym]])=>{const sub=nodes.filter(d=>d.edge===k);return[
 Plot.link(sub,{x1:()=>hubX,y1:()=>hubY,x2:"tx",y2:"ty",stroke:col,strokeWidth:1.45}),
 Plot.dot(sub,{x:"tx",y:"ty",symbol:sym,r:1,rotate:angle,fill:col==="#2d6fc6"?"#6aa0e0":col})];});
const nodeMarks=Object.entries(shapes).map(([k,sym])=>Plot.dot(nodes.filter(d=>d.shape===k),{x:"x",y:"y",symbol:sym,r:1,fill:"level",stroke:"#bdbdbd",strokeWidth:.5}));
plot({width:490,height:470,margin:0,x:{domain:[0,1470],range:[0,490],axis:null},y:{domain:[0,1410],range:[0,470],axis:null},color:nodeFill,
 marks:[...edgeMarks,
  Plot.dot([0],{x:()=>hubX,y:()=>674,r:6.5,stroke:"#eccf2a",strokeWidth:1,fill:"none"}),
  ...nodeMarks,
  Plot.dot([0],{x:()=>hubX,y:()=>hubY,symbol:ell(11.5,5.5),r:1,fill:"#ee6a22",stroke:"#d9d9d9",strokeWidth:.4}),
  Plot.text(nodes,{x:"x",y:"y",text:"name",fontSize:6.7,fill:"#2a2a2a"}),
  Plot.text([hubName],{x:()=>hubX,y:()=>hubY,text:d=>d,fontSize:6,fill:"#5a2a10"})]},710,1150);
</script></body></html>
